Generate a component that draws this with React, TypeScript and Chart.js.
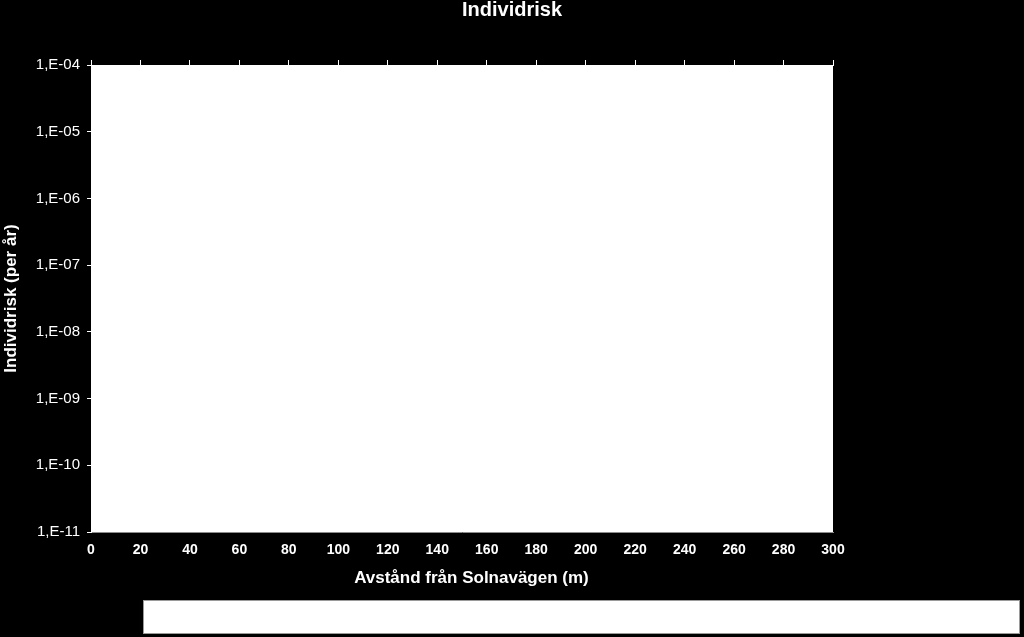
import React, { useEffect, useRef } from 'react';
import { Chart, registerables } from 'chart.js';
Chart.register(...registerables);

// distances along the x axis (m) and the risk decades on the log y axis
const xTickValues = [0, 20, 40, 60, 80, 100, 120, 140, 160, 180, 200, 220, 240, 260, 280, 300];
const yTickValues = [1e-11, 1e-10, 1e-9, 1e-8, 1e-7, 1e-6, 1e-5, 1e-4];
const yTickLabels = ['1,E-11', '1,E-10', '1,E-09', '1,E-08', '1,E-07', '1,E-06', '1,E-05', '1,E-04'];

// no visible series in the reference: the plot area is empty
const seriesPoints: { x: number; y: number }[] = [];

const FONT = '"Liberation Sans", Arial, sans-serif';

const plotBackground = {
    id: 'plotBackground',
    beforeDraw(chart: Chart) {
        const { ctx, chartArea } = chart;
        ctx.save();
        ctx.fillStyle = '#ffffff';
        ctx.fillRect(chartArea.left, chartArea.top, chartArea.right - chartArea.left, chartArea.bottom - chartArea.top);
        ctx.restore();
    },
};

const App: React.FC = () => {
    const canvasRef = useRef<HTMLCanvasElement>(null);
    const chartRef = useRef<Chart | null>(null);

    useEffect(() => {
        if (!canvasRef.current) return;
        if (chartRef.current) chartRef.current.destroy();
        chartRef.current = new Chart(canvasRef.current, {
            type: 'scatter',
            data: {
                datasets: [{
                    label: 'Individrisk',
                    data: seriesPoints,
                    borderColor: '#000000',
                    backgroundColor: '#000000',
                    showLine: true,
                    pointRadius: 0,
                }],
            },
            options: {
                responsive: false,
                animation: false,
                layout: { padding: { top: 0, left: 0, right: 0, bottom: 45 } },
                plugins: {
                    legend: { display: false },
                    tooltip: { enabled: false },
                    title: {
                        display: true,
                        text: 'Individrisk',
                        color: '#ffffff',
                        font: { family: FONT, size: 20, weight: 'bold', lineHeight: 1 },
                        padding: { top: 0, bottom: 0 },
                    },
                },
                scales: {
                    x: {
                        type: 'linear',
                        position: 'bottom',
                        min: 0,
                        max: 300,
                        afterBuildTicks: (s: any) => { s.ticks = xTickValues.map(v => ({ value: v })); },
                        afterFit: (s: any) => { s.height = 60; },
                        grid: { display: true, drawOnChartArea: false, drawTicks: false, color: '#ffffff' },
                        border: { display: true, color: '#8c8c8c', width: 1 },
                        ticks: {
                            color: '#ffffff',
                            padding: 10,
                            maxRotation: 0,
                            autoSkip: false,
                            font: { family: FONT, size: 14, weight: 'bold' },
                        },
                        title: {
                            display: true,
                            text: '\u00A0\u00A0\u00A0\u00A0Avstånd från Solnavägen (m)',
                            color: '#ffffff',
                            font: { family: FONT, size: 17, weight: 'bold' },
                            padding: { top: 0, bottom: 3 },
                        },
                    },
                    xTop: {
                        type: 'linear',
                        position: 'top',
                        min: 0,
                        max: 300,
                        display: true,
                        afterBuildTicks: (s: any) => { s.ticks = xTickValues.map(v => ({ value: v })); },
                        afterFit: (s: any) => { s.height = 45; },
                        grid: { display: true, drawOnChartArea: false, drawTicks: true, tickLength: 5, color: '#ffffff' },
                        border: { display: true, color: '#ffffff' },
                        ticks: { display: false },
                    },
                    y: {
                        type: 'logarithmic',
                        position: 'left',
                        min: 1e-11,
                        max: 1e-4,
                        afterBuildTicks: (s: any) => { s.ticks = yTickValues.map(v => ({ value: v })); },
                        afterFit: (s: any) => { s.width = 91; },
                        grid: { display: true, drawOnChartArea: false, drawTicks: true, tickLength: 4, color: '#ffffff' },
                        border: { display: true, color: '#ffffff' },
                        ticks: {
                            color: '#ffffff',
                            padding: 7,
                            autoSkip: false,
                            font: { family: FONT, size: 15 },
                            callback: (_v: any, i: number) => yTickLabels[i],
                        },
                        title: {
                            display: true,
                            text: 'Individrisk (per år)',
                            color: '#ffffff',
                            font: { family: FONT, size: 17, weight: 'bold' },
                            padding: { top: 1, bottom: 0 },
                        },
                    },
                    yRight: {
                        type: 'linear',
                        position: 'right',
                        display: true,
                        afterFit: (s: any) => { s.width = 191; },
                        grid: { display: false },
                        border: { display: false },
                        ticks: { display: false },
                    },
                },
            },
            plugins: [plotBackground],
        });
        return () => { if (chartRef.current) chartRef.current.destroy(); };
    }, []);

    return (
        <div style={{ position: 'fixed', left: 0, top: 0, width: 1024, height: 637, background: '#000000' }}>
            <canvas ref={canvasRef} width={1024} height={637} style={{ width: 1024, height: 637, display: 'block' }}></canvas>
            <div style={{ position: 'absolute', left: 143, top: 600, width: 877, height: 34, background: '#ffffff', border: '1px solid #9a9a9a', boxSizing: 'border-box' }}></div>
        </div>
    );
};

export default App;
